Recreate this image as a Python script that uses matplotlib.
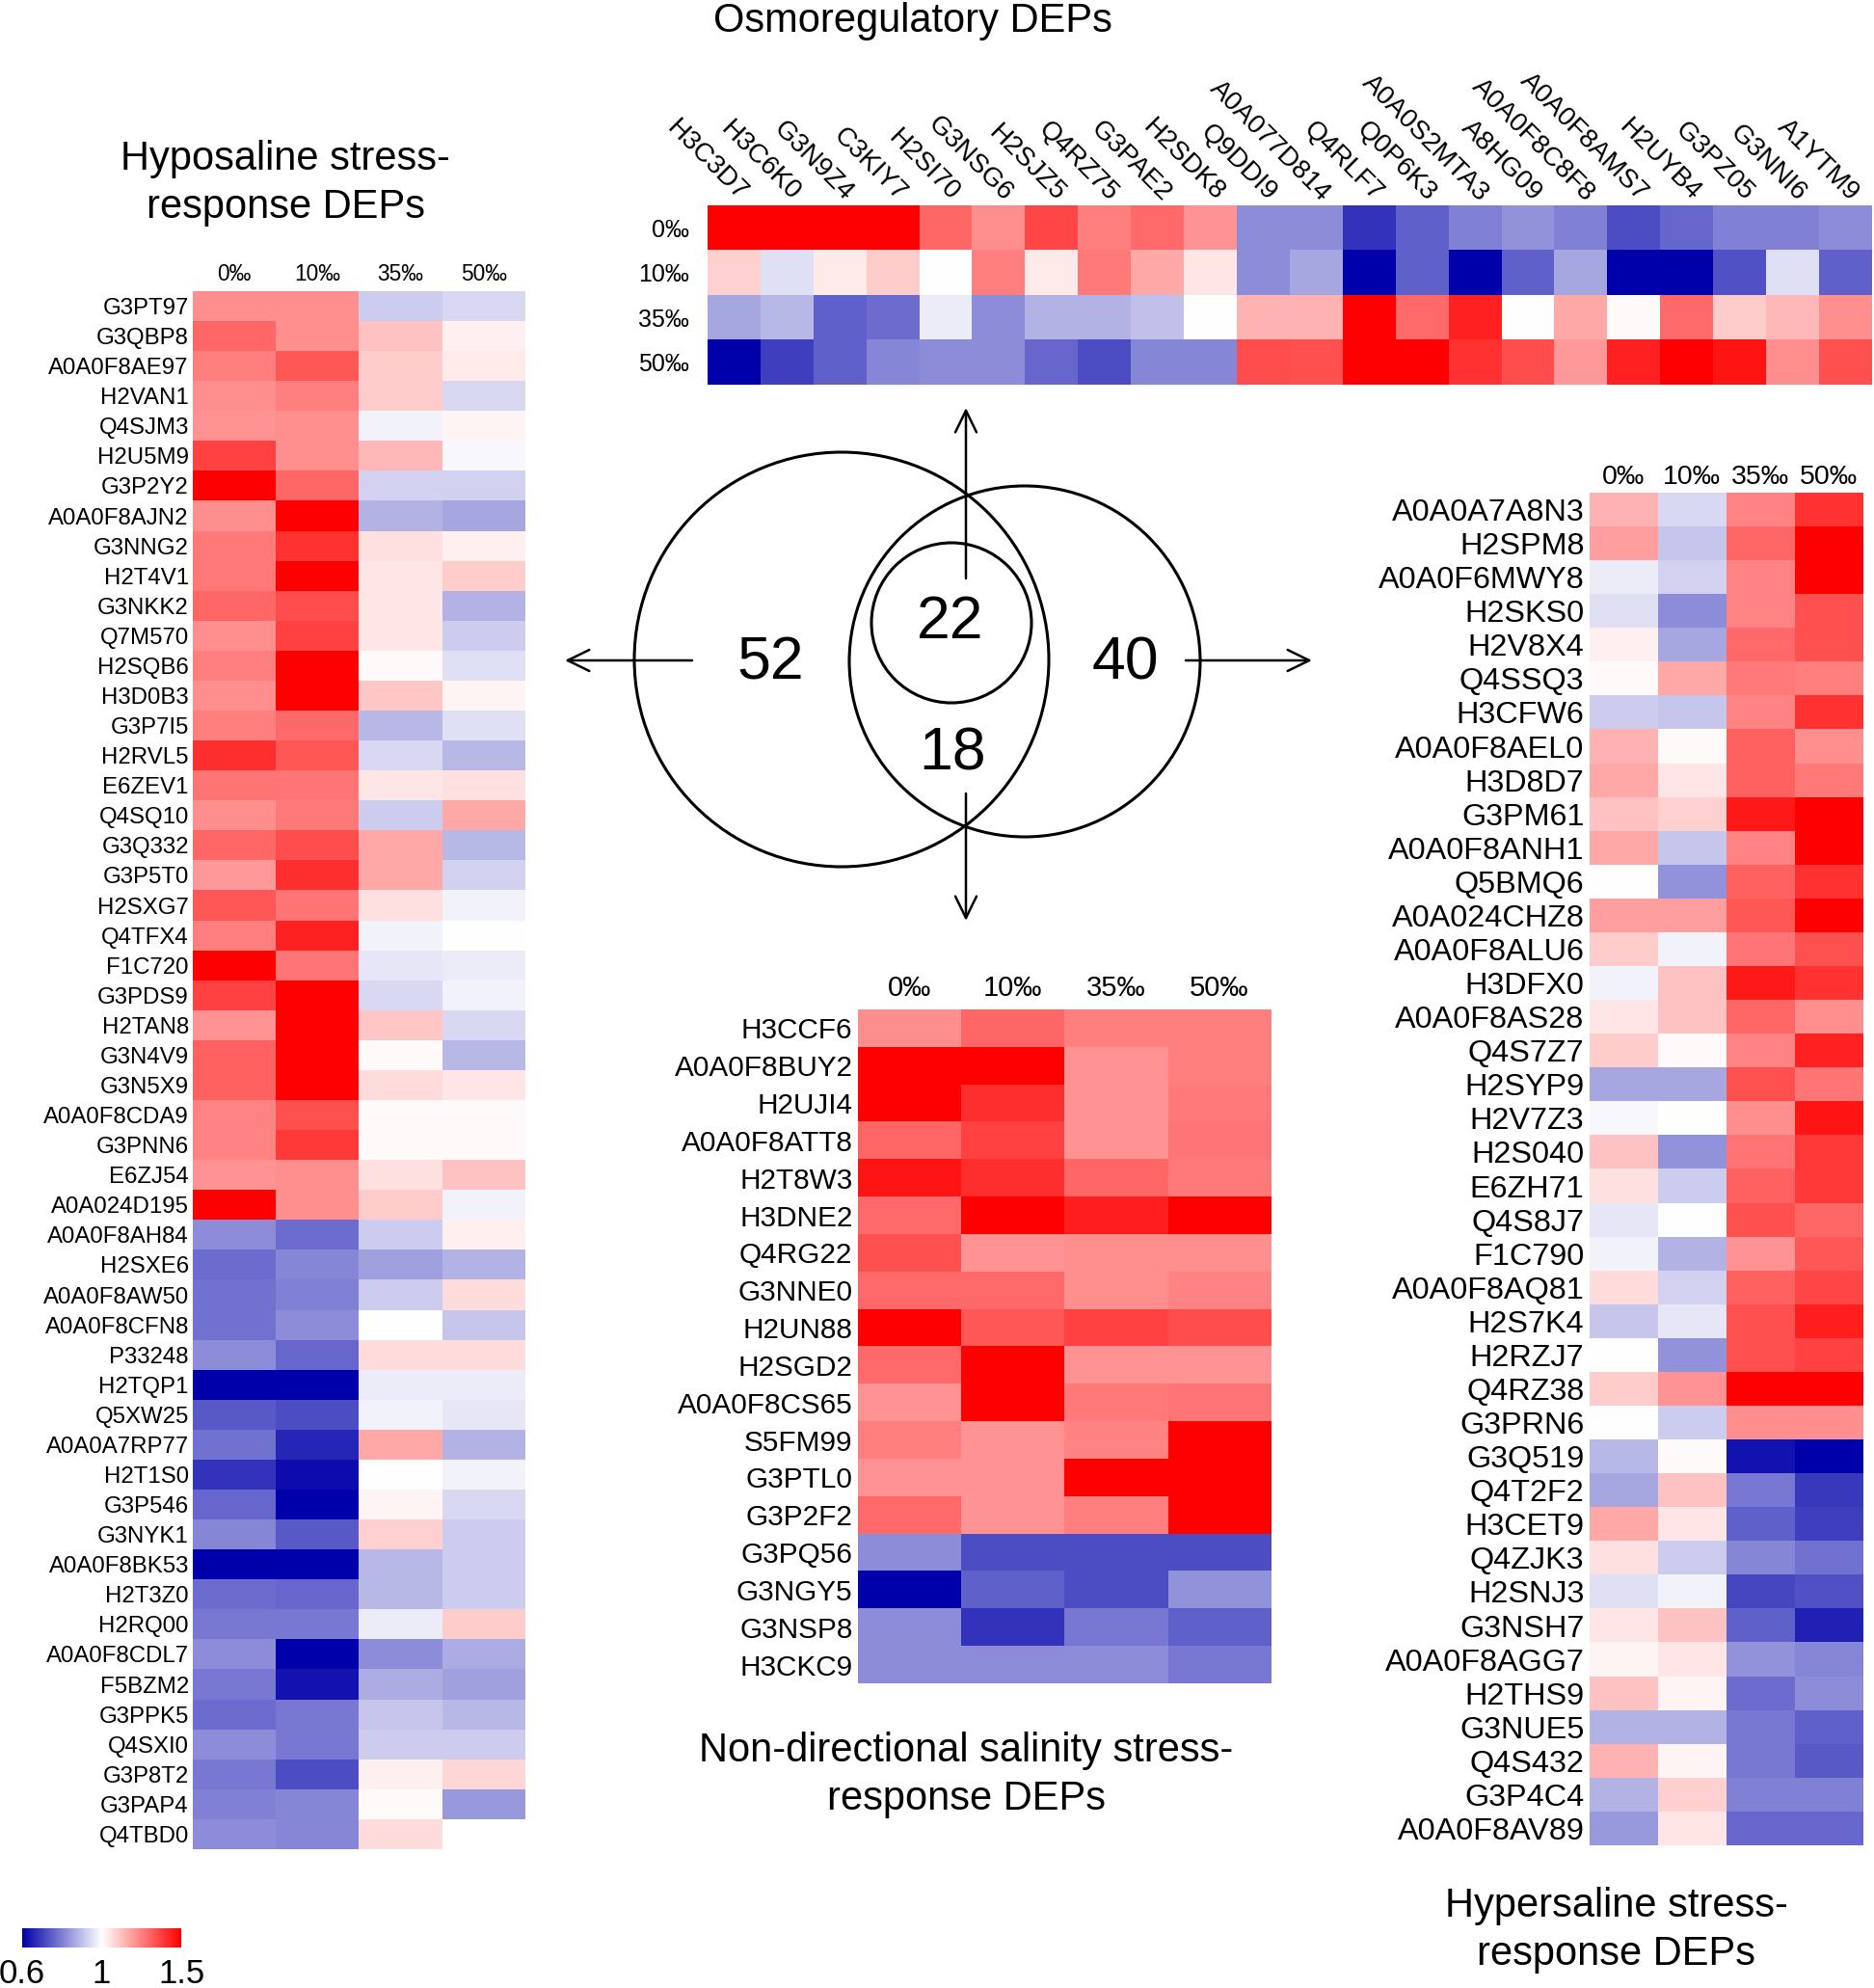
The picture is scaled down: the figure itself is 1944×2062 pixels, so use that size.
import numpy as np
import matplotlib
matplotlib.use('Agg')
import matplotlib.pyplot as plt
from matplotlib.colors import LinearSegmentedColormap, TwoSlopeNorm
from matplotlib.cm import ScalarMappable
from matplotlib.patches import Circle

plt.rcParams['font.family'] = ['Liberation Sans', 'DejaVu Sans']

W, H = 1944, 2062
DPI = 100

SALINITY = ['0‰', '10‰', '35‰', '50‰']

# ---- Osmoregulatory DEPs (top) ----
OSMO_PROTEINS = ['H3C3D7', 'H3C6K0', 'G3N9Z4', 'C3KIY7', 'H2SI70', 'G3NSG6', 'H2SJZ5',
                 'Q4RZ75', 'G3PAE2', 'H2SDK8', 'Q9DDI9', 'A0A077D814', 'Q4RLF7', 'Q0P6K3',
                 'A0A0S2MTA3', 'A8HG09', 'A0A0F8C8F8', 'A0A0F8AMS7', 'H2UYB4', 'G3PZ05',
                 'G3NNI6', 'A1YTM9']
OSMO_0 = [1.5, 1.5, 1.5, 1.5, 1.30, 1.22, 1.36, 1.25, 1.29, 1.21, 0.82,
          0.82, 0.68, 0.75, 0.80, 0.83, 0.80, 0.72, 0.76, 0.80, 0.80, 0.82]
OSMO_10 = [1.09, 0.95, 1.04, 1.10, 1.0, 1.25, 1.04, 1.26, 1.17, 1.05, 0.82,
           0.86, 0.6, 0.75, 0.6, 0.75, 0.86, 0.6, 0.6, 0.73, 0.95, 0.75]
OSMO_35 = [0.86, 0.89, 0.75, 0.77, 0.97, 0.82, 0.88, 0.88, 0.90, 1.0, 1.15,
           1.15, 1.5, 1.29, 1.43, 1.0, 1.17, 1.01, 1.29, 1.10, 1.14, 1.22]
OSMO_50 = [0.6, 0.70, 0.75, 0.81, 0.82, 0.82, 0.76, 0.72, 0.81, 0.81, 1.35,
           1.34, 1.5, 1.5, 1.40, 1.35, 1.20, 1.43, 1.5, 1.46, 1.22, 1.34]

# ---- Hyposaline stress-response DEPs (left) ----
HYPO_PROTEINS = ['G3PT97', 'G3QBP8', 'A0A0F8AE97', 'H2VAN1', 'Q4SJM3', 'H2U5M9', 'G3P2Y2',
                 'A0A0F8AJN2', 'G3NNG2', 'H2T4V1', 'G3NKK2', 'Q7M570', 'H2SQB6', 'H3D0B3',
                 'G3P7I5', 'H2RVL5', 'E6ZEV1', 'Q4SQ10', 'G3Q332', 'G3P5T0', 'H2SXG7',
                 'Q4TFX4', 'F1C720', 'G3PDS9', 'H2TAN8', 'G3N4V9', 'G3N5X9', 'A0A0F8CDA9',
                 'G3PNN6', 'E6ZJ54', 'A0A024D195', 'A0A0F8AH84', 'H2SXE6', 'A0A0F8AW50',
                 'A0A0F8CFN8', 'P33248', 'H2TQP1', 'Q5XW25', 'A0A0A7RP77', 'H2T1S0',
                 'G3P546', 'G3NYK1', 'A0A0F8BK53', 'H2T3Z0', 'H2RQ00', 'A0A0F8CDL7',
                 'F5BZM2', 'G3PPK5', 'Q4SXI0', 'G3P8T2', 'G3PAP4', 'Q4TBD0']
HYPO_0 = [1.22, 1.30, 1.25, 1.22, 1.21, 1.37, 1.5, 1.22, 1.26, 1.26, 1.30, 1.22, 1.25,
          1.22, 1.25, 1.41, 1.27, 1.22, 1.30, 1.20, 1.33, 1.25, 1.5, 1.37, 1.21, 1.31,
          1.31, 1.24, 1.24, 1.21, 1.5, 0.82, 0.77, 0.78, 0.78, 0.82, 0.6, 0.74, 0.78,
          0.68, 0.76, 0.81, 0.6, 0.77, 0.79, 0.82, 0.79, 0.77, 0.82, 0.79, 0.80, 0.82]
HYPO_10 = [1.22, 1.22, 1.33, 1.25, 1.22, 1.22, 1.30, 1.5, 1.40, 1.5, 1.35, 1.37, 1.5,
           1.5, 1.29, 1.33, 1.27, 1.26, 1.35, 1.41, 1.27, 1.43, 1.27, 1.5, 1.5, 1.5,
           1.5, 1.34, 1.39, 1.22, 1.22, 0.77, 0.81, 0.80, 0.82, 0.76, 0.6, 0.72, 0.66,
           0.62, 0.6, 0.74, 0.6, 0.76, 0.79, 0.6, 0.63, 0.79, 0.79, 0.72, 0.81, 0.81]
HYPO_35 = [0.92, 1.12, 1.10, 1.10, 0.98, 1.14, 0.93, 0.88, 1.06, 1.05, 1.05, 1.05, 1.01,
           1.11, 0.89, 0.94, 1.05, 0.92, 1.17, 1.17, 1.06, 0.98, 0.96, 0.94, 1.11, 1.01,
           1.07, 1.01, 1.01, 1.06, 1.10, 0.92, 0.85, 0.92, 1.0, 1.07, 0.97, 0.98, 1.17,
           1.0, 1.02, 1.09, 0.89, 0.89, 0.97, 0.82, 0.87, 0.91, 0.92, 1.03, 1.01, 1.07]
HYPO_50 = [0.94, 1.03, 1.04, 0.94, 1.02, 0.99, 0.93, 0.86, 1.03, 1.10, 0.88, 0.92, 0.95,
           1.02, 0.95, 0.89, 1.06, 1.17, 0.89, 0.93, 0.98, 1.0, 0.97, 0.98, 0.94, 0.89,
           1.05, 1.01, 1.01, 1.12, 0.98, 1.03, 0.88, 1.07, 0.91, 1.07, 0.97, 0.96, 0.88,
           0.98, 0.94, 0.92, 0.92, 0.92, 1.10, 0.87, 0.85, 0.89, 0.92, 1.08, 0.84, np.nan]

# ---- Non-directional salinity stress-response DEPs (middle) ----
NONDIR_PROTEINS = ['H3CCF6', 'A0A0F8BUY2', 'H2UJI4', 'A0A0F8ATT8', 'H2T8W3', 'H3DNE2',
                   'Q4RG22', 'G3NNE0', 'H2UN88', 'H2SGD2', 'A0A0F8CS65', 'S5FM99',
                   'G3PTL0', 'G3P2F2', 'G3PQ56', 'G3NGY5', 'G3NSP8', 'H3CKC9']
NONDIR_0 = [1.22, 1.5, 1.5, 1.30, 1.46, 1.29, 1.34, 1.29, 1.5, 1.29, 1.21, 1.25, 1.21,
            1.29, 0.82, 0.6, 0.82, 0.82]
NONDIR_10 = [1.30, 1.5, 1.41, 1.37, 1.41, 1.5, 1.21, 1.29, 1.33, 1.5, 1.5, 1.21, 1.21,
             1.21, 0.72, 0.75, 0.68, 0.82]
NONDIR_35 = [1.25, 1.21, 1.21, 1.21, 1.30, 1.44, 1.22, 1.22, 1.37, 1.21, 1.26, 1.24, 1.5,
             1.25, 0.72, 0.72, 0.79, 0.82]
NONDIR_50 = [1.25, 1.25, 1.26, 1.27, 1.26, 1.5, 1.22, 1.24, 1.35, 1.21, 1.27, 1.5, 1.5,
             1.5, 0.72, 0.83, 0.75, 0.79]

# ---- Hypersaline stress-response DEPs (right) ----
HYPER_PROTEINS = ['A0A0A7A8N3', 'H2SPM8', 'A0A0F6MWY8', 'H2SKS0', 'H2V8X4', 'Q4SSQ3',
                  'H3CFW6', 'A0A0F8AEL0', 'H3D8D7', 'G3PM61', 'A0A0F8ANH1', 'Q5BMQ6',
                  'A0A024CHZ8', 'A0A0F8ALU6', 'H3DFX0', 'A0A0F8AS28', 'Q4S7Z7', 'H2SYP9',
                  'H2V7Z3', 'H2S040', 'E6ZH71', 'Q4S8J7', 'F1C790', 'A0A0F8AQ81', 'H2S7K4',
                  'H2RZJ7', 'Q4RZ38', 'G3PRN6', 'G3Q519', 'Q4T2F2', 'H3CET9', 'Q4ZJK3',
                  'H2SNJ3', 'G3NSH7', 'A0A0F8AGG7', 'H2THS9', 'G3NUE5', 'Q4S432', 'G3P4C4',
                  'A0A0F8AV89']
HYPER_0 = [1.15, 1.19, 0.97, 0.95, 1.03, 1.01, 0.92, 1.15, 1.17, 1.12, 1.17, 1.0, 1.19,
           1.10, 0.98, 1.05, 1.10, 0.86, 0.99, 1.12, 1.06, 0.96, 0.98, 1.07, 0.91, 1.0,
           1.10, 1.0, 0.89, 0.86, 1.17, 1.06, 0.95, 1.05, 1.02, 1.12, 0.88, 1.15, 0.88, 0.84]
HYPER_10 = [0.94, 0.91, 0.93, 0.82, 0.86, 1.17, 0.91, 1.01, 1.05, 1.09, 0.91, 0.83, 1.19,
            0.98, 1.12, 1.12, 1.01, 0.86, 1.0, 0.83, 0.92, 1.0, 0.88, 0.93, 0.96, 0.83,
            1.21, 0.92, 1.01, 1.12, 1.05, 0.92, 0.98, 1.12, 1.05, 1.02, 0.88, 1.02, 1.09, 1.05]
HYPER_35 = [1.24, 1.30, 1.24, 1.24, 1.29, 1.26, 1.24, 1.31, 1.31, 1.45, 1.24, 1.31, 1.33,
            1.27, 1.45, 1.30, 1.24, 1.34, 1.22, 1.27, 1.31, 1.34, 1.21, 1.31, 1.34, 1.34,
            1.5, 1.22, 0.63, 0.79, 0.75, 0.81, 0.71, 0.75, 0.83, 0.77, 0.79, 0.79, 0.80, 0.76]
HYPER_50 = [1.40, 1.5, 1.5, 1.34, 1.34, 1.25, 1.40, 1.22, 1.26, 1.5, 1.5, 1.40, 1.5,
            1.34, 1.40, 1.22, 1.43, 1.27, 1.46, 1.39, 1.39, 1.30, 1.33, 1.36, 1.44, 1.37,
            1.5, 1.22, 0.6, 0.69, 0.70, 0.78, 0.73, 0.65, 0.81, 0.82, 0.75, 0.74, 0.80, 0.76]

VENN_COUNTS = {'hypo': 52, 'osmo': 22, 'nondir': 18, 'hyper': 40}

CMAP = LinearSegmentedColormap.from_list('bwr_fc', ['#0000aa', '#ffffff', '#ff0000'])
NORM = TwoSlopeNorm(vmin=0.6, vcenter=1.0, vmax=1.5)


def px_axes(fig, left, top, right, bottom, **kw):
    return fig.add_axes([left / W, 1 - bottom / H, (right - left) / W, (bottom - top) / H], **kw)


def draw_heatmap(ax, data, row_labels, col_labels, row_fs, col_fs, row_pad, col_pad):
    ax.imshow(data, cmap=CMAP, norm=NORM, aspect='auto', interpolation='nearest')
    ax.set_yticks(range(len(row_labels)))
    ax.set_yticklabels(row_labels, fontsize=row_fs)
    ax.xaxis.tick_top()
    ax.set_xticks(range(len(col_labels)))
    ax.set_xticklabels(col_labels, fontsize=col_fs)
    ax.tick_params(length=0)
    ax.tick_params(axis='y', pad=row_pad)
    ax.tick_params(axis='x', pad=col_pad)
    for s in ax.spines.values():
        s.set_visible(False)


def main():
    fig = plt.figure(figsize=(W / DPI, H / DPI), dpi=DPI)

    # Venn diagram layer (pixel coordinates)
    vax = px_axes(fig, 0, 0, W, H)
    vax.set_xlim(0, W)
    vax.set_ylim(H, 0)
    vax.axis('off')
    for (cx, cy), r in [((873, 684), 215), ((1063, 686), 182), ((987, 646), 83)]:
        vax.add_patch(Circle((cx, cy), r, fill=False, lw=2.2, ec='black'))
    arrow_kw = dict(arrowstyle='->,head_length=0.45,head_width=0.22', lw=1.8,
                    color='black', shrinkA=0, shrinkB=0, mutation_scale=36)
    for tail, tip in [((1002, 600), (1002, 423)), ((1002, 823), (1002, 955)),
                      ((718, 685), (586, 685)), ((1230, 685), (1361, 685))]:
        vax.annotate('', xy=tip, xytext=tail, arrowprops=arrow_kw)
    for key, (x, y) in zip(['hypo', 'osmo', 'nondir', 'hyper'],
                           [(799, 688), (986, 645), (988, 782), (1167, 688)]):
        vax.text(x, y, str(VENN_COUNTS[key]), fontsize=45, ha='center', va='center')

    # Top: osmoregulatory
    ax = px_axes(fig, 734, 213, 1942, 399)
    osmo = np.array([OSMO_0, OSMO_10, OSMO_35, OSMO_50])
    draw_heatmap(ax, osmo, SALINITY, [''] * len(OSMO_PROTEINS), 18, 1, 14, 0)
    ax.set_xticks([])
    for j, name in enumerate(OSMO_PROTEINS):
        ax.text(j + 0.18, -0.68, name, fontsize=20, rotation=-45, ha='right', va='center',
                rotation_mode='anchor', clip_on=False)

    # Left: hyposaline
    ax = px_axes(fig, 200, 302, 545, 1918)
    hypo = np.column_stack([HYPO_0, HYPO_10, HYPO_35, HYPO_50])
    draw_heatmap(ax, hypo, HYPO_PROTEINS, SALINITY, 17.3, 16.4, 3, 4)

    # Middle: non-directional
    ax = px_axes(fig, 890, 1047, 1318, 1746)
    nondir = np.column_stack([NONDIR_0, NONDIR_10, NONDIR_35, NONDIR_50])
    draw_heatmap(ax, nondir, NONDIR_PROTEINS, SALINITY, 21.4, 21, 4, 6)

    # Right: hypersaline
    ax = px_axes(fig, 1649, 511, 1932, 1914)
    hyper = np.column_stack([HYPER_0, HYPER_10, HYPER_35, HYPER_50])
    draw_heatmap(ax, hyper, HYPER_PROTEINS, SALINITY, 23.3, 20.5, 4, 2)

    # Titles
    title_kw = dict(fontsize=30, ha='center', va='center', linespacing=1.3)
    fig.text(947 / W, 1 - 22 / H, 'Osmoregulatory DEPs', **title_kw)
    fig.text(296 / W, 1 - 190 / H, 'Hyposaline stress-\nresponse DEPs', **title_kw)
    fig.text(1002 / W, 1 - 1841 / H, 'Non-directional salinity stress-\nresponse DEPs', **title_kw)
    fig.text(1677 / W, 1 - 2002 / H, 'Hypersaline stress-\nresponse DEPs', **title_kw)

    # Colour bar
    cax = px_axes(fig, 23, 2000, 188, 2020)
    cb = fig.colorbar(ScalarMappable(norm=NORM, cmap=CMAP), cax=cax,
                      orientation='horizontal', ticks=[0.6, 1.0, 1.5])
    cb.ax.set_xticklabels(['0.6', '1', '1.5'], fontsize=25)
    cb.ax.tick_params(length=0, pad=8)
    cb.outline.set_visible(False)

    fig.savefig('out.png', dpi=DPI)


if __name__ == '__main__':
    main()
